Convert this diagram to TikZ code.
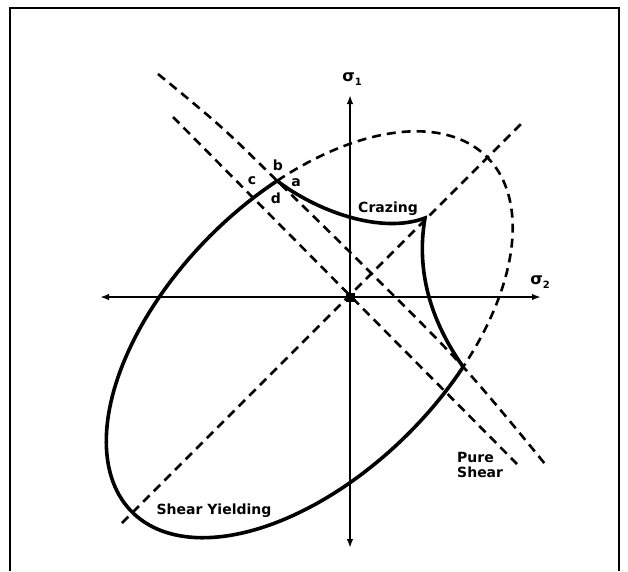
\documentclass[tikz,border=0pt]{standalone}
\usepackage{fontspec}
\setmainfont{DejaVu Sans}
\usetikzlibrary{arrows.meta}
\begin{document}
\begin{tikzpicture}[x=1pt,y=-1pt,
  axisline/.style={line width=2.8pt, {Latex[length=9pt,width=6.5pt]}-{Latex[length=9pt,width=6.5pt]}},
  bound/.style={line width=3.6pt, line cap=round, line join=miter},
  dashline/.style={line width=2.6pt, dash pattern=on 9pt off 6pt},
  lab/.style={font=\fontsize{14}{15}\selectfont\bfseries, inner sep=0pt},
  sig/.style={font=\fontsize{16}{16}\selectfont\bfseries, inner sep=0pt},
]
\useasboundingbox (0,0) rectangle (628,571);
% frame
\draw[line width=1.4pt] (10,571) -- (10,8) -- (619,8) -- (619,571);

% named points
\coordinate (O) at (350,297);
\coordinate (xl) at (100,297);
\coordinate (xr) at (541,297);
\coordinate (yt) at (350,95);
\coordinate (yb) at (350,548);
\coordinate (B) at (277.1,180.8);
\coordinate (K) at (425,218);
\coordinate (E) at (463.2,366.9);
\coordinate (d1) at (122,523);
\coordinate (d2) at (525,120);
\coordinate (i1) at (173,117);
\coordinate (i2) at (517,464);

% dashed guide lines
\draw[dashline] (d1) -- (d2);
\draw[dashline] (i1) -- (i2);
\draw[dashline] plot[smooth, tension=0.6] coordinates {(158,74) (220,126) (B) (370,272) (E) (545,464)};
% dashed part of ellipse
\draw[dashline] plot[domain=-70:70, samples=80, variable=\t]
  ({309.5+0.7071*(251*cos(\t)+140*sin(\t))},{334.5+0.7071*(-251*cos(\t)+140*sin(\t))});

% axes
\draw[axisline] (xl) -- (xr);
\draw[axisline] (yb) -- (yt);
\fill (345.5,292.5) rectangle (354.5,301.5);

% solid boundary
\draw[bound] plot[domain=70:290, samples=120, variable=\t]
  ({309.5+0.7071*(251*cos(\t)+140*sin(\t))},{334.5+0.7071*(-251*cos(\t)+140*sin(\t))});
\draw[bound] (B) .. controls (315,210) and (380,235) .. (K)
  .. controls (416,270) and (430,320) .. (E);

% labels
\node[sig] (s1) at (352,79) {σ\raisebox{-4pt}{\fontsize{10}{10}\selectfont 1}};
\node[sig] (s2) at (540,282) {σ\raisebox{-4pt}{\fontsize{10}{10}\selectfont 2}};
\node[lab] (la) at (296,183) {a};
\node[lab] (lb) at (278,165) {b};
\node[lab] (lc) at (252,181) {c};
\node[lab] (ld) at (276,198) {d};
\node[lab] (craz) at (388,209) {Crazing};
\node[lab] (shy) at (214,511) {Shear Yielding};
\node[lab, align=left, anchor=north west] (ps) at (457,452) {Pure\\Shear};
\end{tikzpicture}
\end{document}
